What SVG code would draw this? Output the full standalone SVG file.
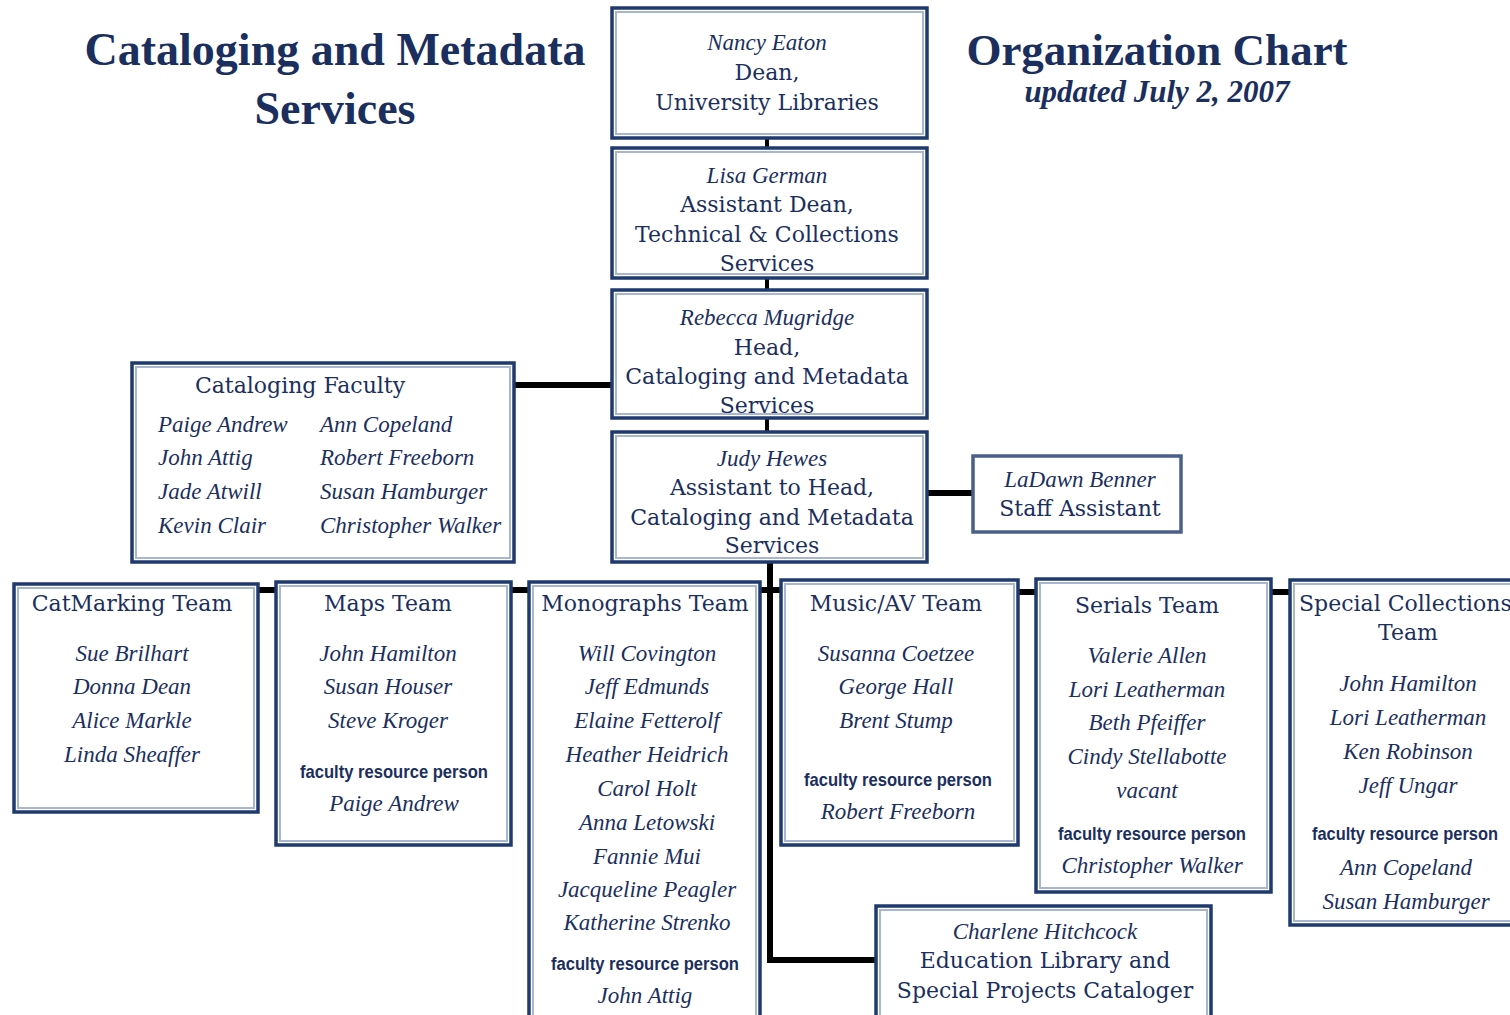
<svg xmlns="http://www.w3.org/2000/svg" width="1510" height="1015" viewBox="0 0 1510 1015">
<style>
.box{fill:#fff;stroke:#1f3a6e;stroke-width:3.5}
.inner{fill:none;stroke:#a8b6cf;stroke-width:2}
.t{font-family:"DejaVu Serif","Liberation Serif",serif;font-size:22px;fill:#1b2f5e;text-anchor:middle}
.n{font-family:"Liberation Serif",serif;font-style:italic;font-size:23px;fill:#1b2f5e;text-anchor:middle}
.nl{font-family:"Liberation Serif",serif;font-style:italic;font-size:23px;fill:#1b2f5e}
.f{font-family:"Liberation Sans","DejaVu Sans",sans-serif;font-weight:bold;font-size:15px;fill:#1b2f5e;text-anchor:middle}
.h{font-family:"Liberation Serif",serif;font-weight:bold;font-size:46px;fill:#1b2f5e;text-anchor:middle}
.c{stroke:#000;stroke-width:6;fill:none}
</style>
<g id="titles">
<text class="h" x="335" y="65">Cataloging and Metadata</text>
<text class="h" x="335" y="124">Services</text>
<text class="h" x="1157" y="65" style="font-size:45px">Organization Chart</text>
<text x="1157" y="102" style="font-family:'Liberation Serif',serif;font-weight:bold;font-style:italic;font-size:31px;fill:#1b2f5e;text-anchor:middle">updated July 2, 2007</text>
</g>
<g id="connectors">
<line class="c" x1="767" y1="138" x2="767" y2="148" style="stroke-width:4"/>
<line class="c" x1="767" y1="278" x2="767" y2="290" style="stroke-width:4"/>
<line class="c" x1="767" y1="418" x2="767" y2="432" style="stroke-width:4"/>
<line class="c" x1="514" y1="385" x2="612" y2="385"/>
<line class="c" x1="927" y1="493" x2="973" y2="493"/>
<polyline class="c" points="770,562 770,960 876,960"/>
<line class="c" x1="258" y1="590" x2="276" y2="590"/>
<line class="c" x1="511" y1="590" x2="529" y2="590"/>
<line class="c" x1="760" y1="590" x2="781" y2="590"/>
<line class="c" x1="1018" y1="592" x2="1036" y2="592"/>
<line class="c" x1="1271" y1="592" x2="1290" y2="592"/>
</g>
<g id="dean">
<rect class="box" x="612" y="8" width="315" height="130"/><rect class="inner" x="616" y="12" width="307" height="122"/>
<text class="n" x="767" y="50">Nancy Eaton</text>
<text class="t" x="767" y="80">Dean,</text>
<text class="t" x="767" y="110">University Libraries</text>
</g>
<g id="assistant-dean">
<rect class="box" x="612" y="148" width="315" height="130"/><rect class="inner" x="616" y="152" width="307" height="122"/>
<text class="n" x="767" y="183">Lisa German</text>
<text class="t" x="767" y="212">Assistant Dean,</text>
<text class="t" x="767" y="242">Technical &amp; Collections</text>
<text class="t" x="767" y="271">Services</text>
</g>
<g id="head">
<rect class="box" x="612" y="290" width="315" height="128"/><rect class="inner" x="616" y="294" width="307" height="120"/>
<text class="n" x="767" y="325">Rebecca Mugridge</text>
<text class="t" x="767" y="355">Head,</text>
<text class="t" x="767" y="384">Cataloging and Metadata</text>
<text class="t" x="767" y="413">Services</text>
</g>
<g id="assistant-head">
<rect class="box" x="612" y="432" width="315" height="130"/><rect class="inner" x="616" y="436" width="307" height="122"/>
<text class="n" x="772" y="466">Judy Hewes</text>
<text class="t" x="772" y="495">Assistant to Head,</text>
<text class="t" x="772" y="525">Cataloging and Metadata</text>
<text class="t" x="772" y="553">Services</text>
</g>
<g id="cataloging-faculty">
<rect class="box" x="132" y="363" width="382" height="199"/><rect class="inner" x="136" y="367" width="374" height="191"/>
<text class="t" x="300" y="393">Cataloging Faculty</text>
<text class="nl" x="158" y="432">Paige Andrew</text>
<text class="nl" x="158" y="465">John Attig</text>
<text class="nl" x="158" y="499">Jade Atwill</text>
<text class="nl" x="158" y="533">Kevin Clair</text>
<text class="nl" x="320" y="432">Ann Copeland</text>
<text class="nl" x="320" y="465">Robert Freeborn</text>
<text class="nl" x="320" y="499">Susan Hamburger</text>
<text class="nl" x="320" y="533">Christopher Walker</text>
</g>
<g id="staff-assistant">
<rect class="box" x="973" y="456" width="208" height="76" style="stroke:#4a5f8a"/>
<text class="n" x="1080" y="487">LaDawn Benner</text>
<text class="t" x="1080" y="516">Staff Assistant</text>
</g>
<g id="catmarking">
<rect class="box" x="14" y="584" width="244" height="228"/><rect class="inner" x="18" y="588" width="236" height="220"/>
<text class="t" x="132" y="611">CatMarking Team</text>
<text class="n" x="132" y="661">Sue Brilhart</text>
<text class="n" x="132" y="694">Donna Dean</text>
<text class="n" x="132" y="728">Alice Markle</text>
<text class="n" x="132" y="762">Linda Sheaffer</text>
</g>
<g id="maps">
<rect class="box" x="276" y="582" width="235" height="263"/><rect class="inner" x="280" y="586" width="227" height="255"/>
<text class="t" x="388" y="611">Maps Team</text>
<text class="n" x="388" y="661">John Hamilton</text>
<text class="n" x="388" y="694">Susan Houser</text>
<text class="n" x="388" y="728">Steve Kroger</text>
<text class="f" transform="translate(394 778) scale(1 1.25)" textLength="188" lengthAdjust="spacingAndGlyphs">faculty resource person</text>
<text class="n" x="394" y="811">Paige Andrew</text>
</g>
<g id="monographs">
<rect class="box" x="529" y="582" width="231" height="450"/><rect class="inner" x="533" y="586" width="223" height="442"/>
<text class="t" x="645" y="611">Monographs Team</text>
<text class="n" x="647" y="661">Will Covington</text>
<text class="n" x="647" y="694">Jeff Edmunds</text>
<text class="n" x="647" y="728">Elaine Fetterolf</text>
<text class="n" x="647" y="762">Heather Heidrich</text>
<text class="n" x="647" y="796">Carol Holt</text>
<text class="n" x="647" y="830">Anna Letowski</text>
<text class="n" x="647" y="864">Fannie Mui</text>
<text class="n" x="647" y="897">Jacqueline Peagler</text>
<text class="n" x="647" y="930">Katherine Strenko</text>
<text class="f" transform="translate(645 970) scale(1 1.25)" textLength="188" lengthAdjust="spacingAndGlyphs">faculty resource person</text>
<text class="n" x="645" y="1003">John Attig</text>
</g>
<g id="music-av">
<rect class="box" x="781" y="580" width="237" height="265"/><rect class="inner" x="785" y="584" width="229" height="257"/>
<text class="t" x="896" y="611">Music/AV Team</text>
<text class="n" x="896" y="661">Susanna Coetzee</text>
<text class="n" x="896" y="694">George Hall</text>
<text class="n" x="896" y="728">Brent Stump</text>
<text class="f" transform="translate(898 786) scale(1 1.25)" textLength="188" lengthAdjust="spacingAndGlyphs">faculty resource person</text>
<text class="n" x="898" y="819">Robert Freeborn</text>
</g>
<g id="serials">
<rect class="box" x="1036" y="579" width="235" height="313"/><rect class="inner" x="1040" y="583" width="227" height="305"/>
<text class="t" x="1147" y="613">Serials Team</text>
<text class="n" x="1147" y="663">Valerie Allen</text>
<text class="n" x="1147" y="697">Lori Leatherman</text>
<text class="n" x="1147" y="730">Beth Pfeiffer</text>
<text class="n" x="1147" y="764">Cindy Stellabotte</text>
<text class="n" x="1147" y="798">vacant</text>
<text class="f" transform="translate(1152 840) scale(1 1.25)" textLength="188" lengthAdjust="spacingAndGlyphs">faculty resource person</text>
<text class="n" x="1152" y="873">Christopher Walker</text>
</g>
<g id="special-collections">
<rect class="box" x="1290" y="580" width="240" height="345"/><rect class="inner" x="1294" y="584" width="232" height="337"/>
<text class="t" x="1299" y="611" style="text-anchor:start">Special Collections</text>
<text class="t" x="1408" y="640">Team</text>
<text class="n" x="1408" y="691">John Hamilton</text>
<text class="n" x="1408" y="725">Lori Leatherman</text>
<text class="n" x="1408" y="759">Ken Robinson</text>
<text class="n" x="1408" y="793">Jeff Ungar</text>
<text class="f" transform="translate(1405 840) scale(1 1.25)" textLength="186" lengthAdjust="spacingAndGlyphs">faculty resource person</text>
<text class="n" x="1406" y="875">Ann Copeland</text>
<text class="n" x="1406" y="909">Susan Hamburger</text>
</g>
<g id="education-library">
<rect class="box" x="876" y="906" width="335" height="130"/><rect class="inner" x="880" y="910" width="327" height="122"/>
<text class="n" x="1045" y="939">Charlene Hitchcock</text>
<text class="t" x="1045" y="968">Education Library and</text>
<text class="t" x="1045" y="998">Special Projects Cataloger</text>
</g>
</svg>
